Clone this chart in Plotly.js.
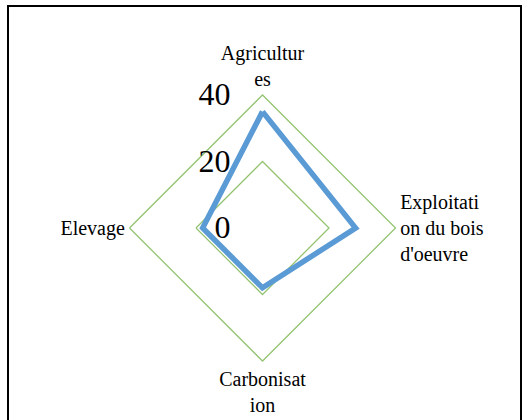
<!DOCTYPE html>
<html>
<head>
<meta charset="utf-8">
<script src="https://cdn.plot.ly/plotly-3.0.1.min.js"></script>
<style>
  html, body { margin: 0; padding: 0; background: #ffffff; }
  #wrap { position: relative; width: 528px; height: 420px; overflow: hidden; }
  #chart { position: absolute; left: 0; top: 0; width: 528px; height: 420px; }
  #frame { position: absolute; left: 7px; top: 5px; width: 515px; height: 430px;
           border: 2px solid #000; box-sizing: border-box; pointer-events: none; }
</style>
</head>
<body>
<div id="wrap">
  <div id="chart"></div>
  <div id="frame"></div>
</div>
<script>
const categories = ["Agricultur<br>es", "Exploitati<br>on du bois<br>d'oeuvre", "Carbonisat<br>ion", "Elevage"];
const values = [35, 28, 18, 18];
const radialTicks = [0, 20, 40];

const theta = categories.concat([categories[0]]);
const r = values.concat([values[0]]);

const W = 528, H = 420;
const cx = 262.5, cy = 228, R = 133;
const green = '#94c472';
const serif = "'Liberation Serif', 'Times New Roman', Times, serif";

const data = [{
  type: 'scatterpolar',
  mode: 'lines',
  r: r,
  theta: theta,
  line: { color: '#5b9bd5', width: 5.5 },
  hoverinfo: 'none',
  showlegend: false
}];

const layout = {
  width: W, height: H,
  margin: { l: 0, r: 0, t: 0, b: 0 },
  paper_bgcolor: '#ffffff',
  font: { family: serif, color: '#000000', size: 20 },
  showlegend: false,
  polar: {
    domain: { x: [(cx - R) / W, (cx + R) / W], y: [(H - cy - R) / H, (H - cy + R) / H] },
    bgcolor: 'rgba(0,0,0,0)',
    gridshape: 'linear',
    angularaxis: {
      rotation: 90,
      direction: 'clockwise',
      showgrid: false,
      showline: true,
      linecolor: green,
      linewidth: 1.3,
      ticks: '',
      tickfont: { family: serif, size: 20, color: '#000' }
    },
    radialaxis: {
      range: [0, 40],
      tickvals: radialTicks,
      ticktext: radialTicks.map(v => String(v) + '\u2002\u00a0\u200a'),
      angle: 90,
      side: 'counterclockwise',
      showline: false,
      showgrid: true,
      gridcolor: green,
      gridwidth: 1.3,
      ticks: '',
      tickangle: 90,
      tickfont: { family: serif, size: 32, color: '#000' }
    }
  }
};

Plotly.newPlot('chart', data, layout, { staticPlot: true, displayModeBar: false });
</script>
</body>
</html>
